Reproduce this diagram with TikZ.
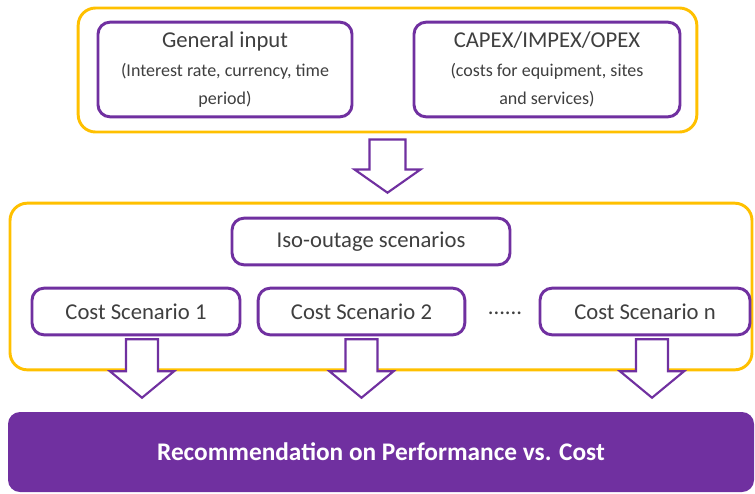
\documentclass[tikz,border=0pt]{standalone}
\usepackage{fontspec}
\setmainfont{Carlito}
\usetikzlibrary{calc}

\definecolor{gold}{HTML}{FFC000}
\definecolor{violet}{HTML}{7030A0}
\definecolor{ink}{HTML}{3F3F3F}

\begin{document}
\begin{tikzpicture}[x=0.75pt, y=-0.75pt]
    \tikzstyle{frame} = [rectangle, rounded corners=13pt, draw=gold, line width=2.2pt]
    \tikzstyle{box} = [rectangle, rounded corners=9pt, draw=violet, line width=2.2pt, fill=white, text=ink, align=center, font=\fontsize{17}{20}\selectfont]
    \tikzstyle{result} = [rectangle, rounded corners=9pt, fill=violet, text=white, font=\fontsize{19}{22}\selectfont\bfseries]
    \tikzstyle{hollow} = [draw=violet, fill=white, line width=1.6pt, line join=miter]

    \clip (0,0) rectangle (755,493);

    \node (top) [frame, minimum width=464pt, minimum height=93pt] at (387.5,70) {};
    \node (gen) [box, minimum width=190.5pt, minimum height=71pt] at (225,69.5) {General input\\[2pt]{\fontsize{13.5}{17}\selectfont (Interest rate, currency, time}\\[1pt]{\fontsize{13.5}{17}\selectfont period)}};
    \node (capex) [box, minimum width=199.5pt, minimum height=71pt] at (547,69.5) {CAPEX/IMPEX/OPEX\\[2pt]{\fontsize{13.5}{17}\selectfont (costs for equipment, sites}\\[1pt]{\fontsize{13.5}{17}\selectfont and services)}};

    \node (mid) [frame, minimum width=556.5pt, minimum height=125pt] at (381,286.5) {};
    \node (iso) [box, minimum width=208.5pt, minimum height=35pt] at (371,241.5) {Iso-outage scenarios};
    \node (c1) [box, minimum width=156pt, minimum height=35pt] at (136,311.5) {Cost Scenario 1};
    \node (c2) [box, minimum width=155pt, minimum height=35pt] at (361.5,311.5) {Cost Scenario 2};
    \node (cn) [box, minimum width=157.5pt, minimum height=35pt] at (645,311.5) {Cost Scenario n};
    \node (dots) [text=ink, font=\fontsize{17}{20}\selectfont] at (505,313) {......};

    \node (rec) [result, minimum width=559.5pt, minimum height=60pt] at (381,452) {Recommendation on Performance vs. Cost};

    % block arrows
    \draw [hollow] ($(top.south)+(-18,6)$) -- ++(36,0) -- ++(0,30) -- ++(15,0)
        -- ($(top.south |- mid.north)+(0,-9)$)
        -- ($(top.south)+(-33,36)$) -- ++(15,0) -- cycle;
    \foreach \n/\dx in {c1/6, c2/0, cn/7}
        \draw [hollow] ($(\n.south)+(\dx-16,3)$) -- ++(32,0) -- ++(0,32) -- ++(16,0)
            -- ($(\n.south |- rec.north)+(\dx,-14)$)
            -- ($(\n.south)+(\dx-32,35)$) -- ++(16,0) -- cycle;
\end{tikzpicture}
\end{document}
